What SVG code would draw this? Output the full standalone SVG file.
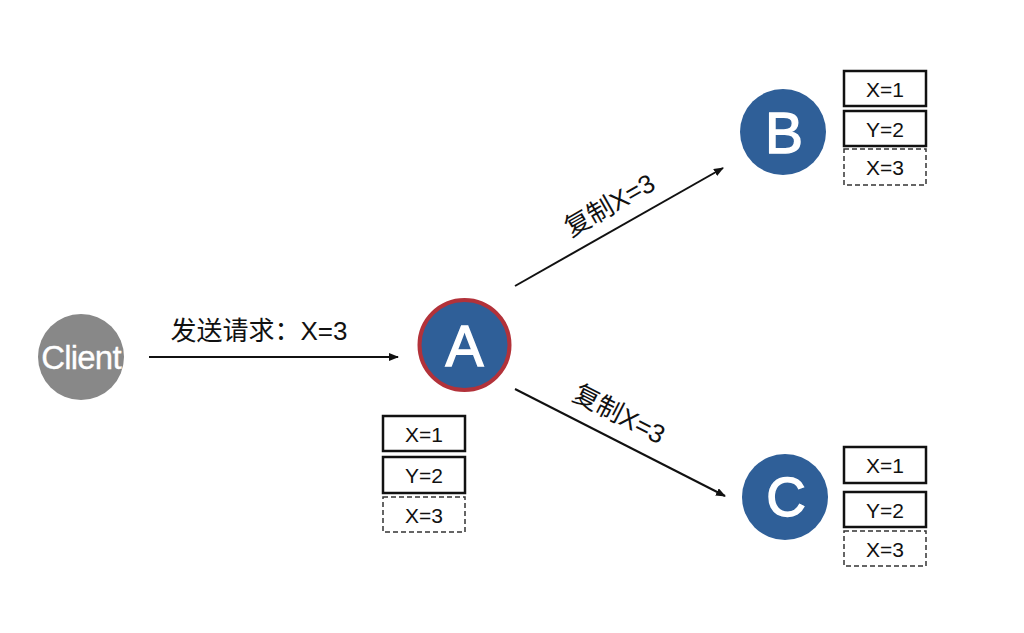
<svg xmlns="http://www.w3.org/2000/svg" width="1024" height="633" viewBox="0 0 1024 633">
<defs>
<style>
.node{fill:#2F5F98}
.nl{font-family:"Liberation Sans",Arial,sans-serif;fill:#fff;text-anchor:middle;stroke:#fff;stroke-width:1.4}
.box{fill:#fff;stroke:#111;stroke-width:2.5}
.dbox{fill:#fff;stroke:#333;stroke-width:1.5;stroke-dasharray:5,3}
.bt{font-family:"Liberation Sans",Arial,sans-serif;font-size:21px;fill:#111;text-anchor:middle}
.lbl{font-family:"Liberation Sans","Noto Sans CJK SC",sans-serif;font-size:26px;fill:#111;text-anchor:middle}
.conn{stroke:#111;stroke-width:2;fill:none;marker-end:url(#ah)}
</style>
<marker id="ah" markerWidth="10" markerHeight="8" refX="9" refY="4" orient="auto" markerUnits="userSpaceOnUse">
<path d="M0,0 L10,4 L0,8 Z" fill="#111"/>
</marker>
</defs>
<rect width="1024" height="633" fill="#fff"/>
<g id="connectors">
<line class="conn" x1="149" y1="357" x2="398" y2="357"/>
<line class="conn" x1="515" y1="286" x2="723" y2="168"/>
<line class="conn" x1="515" y1="389" x2="725" y2="496"/>
<text class="lbl" x="259" y="340">发送请求：X=3</text>
<text class="lbl" transform="translate(614,213) rotate(-29.7)">复制X=3</text>
<text class="lbl" transform="translate(615,422) rotate(27.1)">复制X=3</text>
</g>
<g id="client">
<circle cx="81" cy="357" r="43" fill="#888888"/>
<text class="nl" x="81" y="369" font-size="33" letter-spacing="-0.8" style="stroke-width:0.3">Client</text>
</g>
<g id="nodeA">
<circle cx="464.5" cy="345" r="45" class="node" stroke="#B2323A" stroke-width="4"/>
<text class="nl" x="464.5" y="366" font-size="57">A</text>
<rect class="box" x="383" y="416" width="82" height="35"/>
<text class="bt" x="424" y="442">X=1</text>
<rect class="box" x="383" y="457" width="82" height="36"/>
<text class="bt" x="424" y="483">Y=2</text>
<rect class="dbox" x="383" y="497" width="82" height="35"/>
<text class="bt" x="424" y="523">X=3</text>
</g>
<g id="nodeB">
<circle cx="783" cy="132" r="43" class="node"/>
<text class="nl" x="784" y="153" font-size="57">B</text>
<rect class="box" x="844" y="71" width="82" height="35"/>
<text class="bt" x="885" y="97">X=1</text>
<rect class="box" x="844" y="111" width="82" height="35"/>
<text class="bt" x="885" y="137">Y=2</text>
<rect class="dbox" x="844" y="149" width="82" height="36"/>
<text class="bt" x="885" y="175">X=3</text>
</g>
<g id="nodeC">
<circle cx="785" cy="497" r="43" class="node"/>
<text class="nl" x="786" y="516" font-size="55">C</text>
<rect class="box" x="844" y="447" width="82" height="36"/>
<text class="bt" x="885" y="473">X=1</text>
<rect class="box" x="844" y="492" width="82" height="35"/>
<text class="bt" x="885" y="518">Y=2</text>
<rect class="dbox" x="844" y="531" width="82" height="35"/>
<text class="bt" x="885" y="557">X=3</text>
</g>
</svg>
